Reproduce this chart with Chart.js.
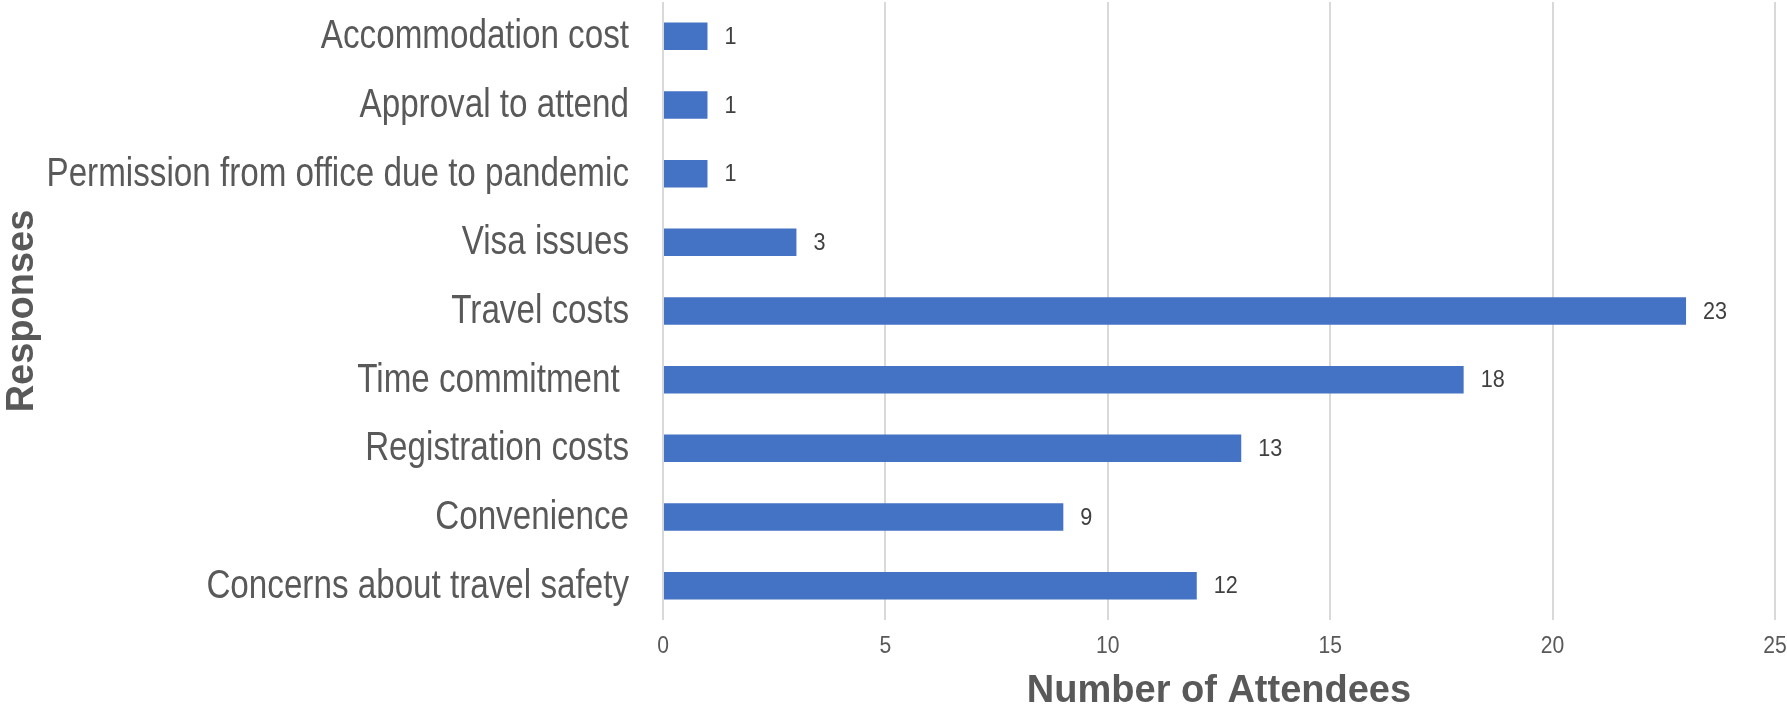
<!DOCTYPE html>
<html>
<head>
<meta charset="utf-8">
<script src="https://cdn.jsdelivr.net/npm/chart.js@4.4.1/dist/chart.umd.min.js"></script>
<style>
  html, body { margin: 0; padding: 0; background: #fff; }
  #wrap { width: 1787px; height: 714px; }
</style>
</head>
<body>
<div id="wrap"><canvas id="chart" width="1787" height="714"></canvas></div>
<script>
// Responses vs number of attendees (horizontal bars)
const respostas = [
    'Accommodation cost',
    'Approval to attend',
    'Permission from office due to pandemic',
    'Visa issues',
    'Travel costs',
    'Time commitment ',
    'Registration costs',
    'Convenience',
    'Concerns about travel safety'
];
const participantes = [1, 1, 1, 3, 23, 18, 13, 9, 12];
const eixoMax = 25;
const eixoPasso = 5;

const regular = "'Liberation Sans', Arial, sans-serif";
// no Arial Narrow here: regular face squeezed horizontally
const estreito = 0.83;

function textoEstreito(ctx, texto, x, y, align, fator) {
    ctx.save();
    ctx.translate(x, y);
    ctx.scale(fator || estreito, 1);
    ctx.textAlign = align;
    ctx.fillText(texto, 0, 0);
    ctx.restore();
}

// rótulos das categorias e valores ao lado das barras
const rotulosBarras = {
    id: 'rotulosBarras',
    afterDatasetsDraw(chart) {
        const ctx = chart.ctx;
        const yScale = chart.scales.y;
        const xScale = chart.scales.x;
        const meta = chart.getDatasetMeta(0);
        ctx.save();
        ctx.textBaseline = 'middle';

        ctx.font = '40px ' + regular;
        ctx.fillStyle = '#595959';
        respostas.forEach((r, i) => {
            textoEstreito(ctx, r, chart.chartArea.left - 34, yScale.getPixelForTick(i) + 1, 'right');
        });

        ctx.font = '24px ' + regular;
        ctx.fillStyle = '#595959';
        xScale.ticks.forEach((t, i) => {
            textoEstreito(ctx, String(t.value), xScale.getPixelForTick(i), chart.chartArea.bottom + 26, 'center', 0.88);
        });

        ctx.font = '24px ' + regular;
        ctx.fillStyle = '#404040';
        meta.data.forEach((bar, i) => {
            textoEstreito(ctx, String(participantes[i]), bar.x + 17, bar.y + 1, 'left', 0.9);
        });
        ctx.restore();
    }
};

new Chart(document.getElementById('chart').getContext('2d'), {
    type: 'bar',
    data: {
        labels: respostas,
        datasets: [{
            data: participantes,
            backgroundColor: '#4472C4',
            borderWidth: 0,
            barPercentage: 0.4,
            categoryPercentage: 1.0
        }]
    },
    options: {
        indexAxis: 'y',
        responsive: false,
        animation: false,
        devicePixelRatio: 1,
        layout: { padding: { top: 2, right: 12, bottom: 0, left: 0 } },
        plugins: {
            legend: { display: false },
            tooltip: { enabled: false }
        },
        scales: {
            x: {
                min: 0,
                max: eixoMax,
                ticks: { stepSize: eixoPasso, display: false },
                grid: { color: '#D9D9D9', lineWidth: 2, drawTicks: false },
                border: { display: false },
                title: {
                    display: true,
                    text: 'Number of Attendees',
                    color: '#595959',
                    font: { family: regular, size: 38, weight: 'bold' },
                    padding: { top: 0, bottom: 0 }
                },
                afterFit(scale) {
                    scale.height = 94;
                    scale.paddingLeft = 0;
                    scale.paddingRight = 0;
                }
            },
            y: {
                ticks: { display: false },
                grid: { display: false, drawTicks: false },
                border: { display: false },
                title: {
                    display: true,
                    text: 'Responses',
                    color: '#595959',
                    font: { family: regular, size: 38, weight: 'bold' },
                    padding: { top: 0, bottom: 0 }
                },
                afterFit(scale) {
                    scale.width = 663;
                    scale.paddingTop = 0;
                    scale.paddingBottom = 0;
                }
            }
        }
    },
    plugins: [rotulosBarras]
});
</script>
</body>
</html>
